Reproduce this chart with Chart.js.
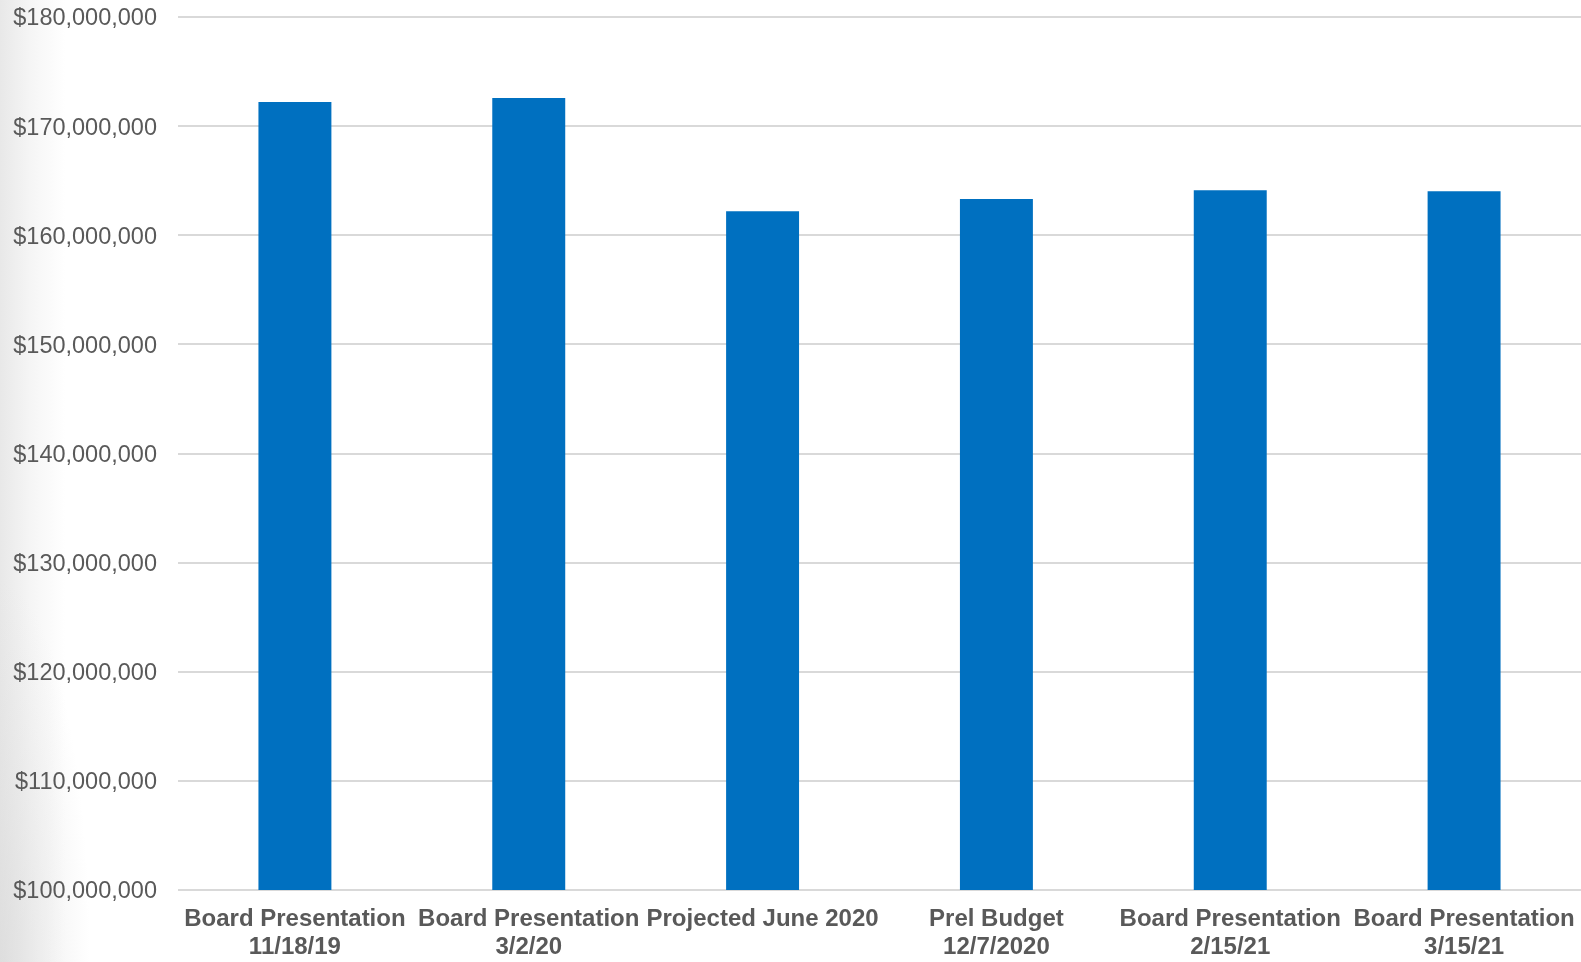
<!DOCTYPE html>
<html>
<head>
<meta charset="utf-8">
<script src="https://cdn.jsdelivr.net/npm/chart.js@4/dist/chart.umd.min.js"></script>
<style>
  html, body { margin: 0; padding: 0; }
  body {
    width: 1581px; height: 962px; overflow: hidden;
    background:
      radial-gradient(ellipse 90px 380px at 0% 100%, rgba(215,215,215,0.6) 0%, rgba(255,255,255,0) 100%),
      linear-gradient(to right, #e8e8e8 0px, #f5f5f5 30px, #ffffff 65px);
  }
  #wrap { position: absolute; left: 0; top: 0; width: 1581px; height: 962px; }
</style>
</head>
<body>
<div id="wrap"><canvas id="c" width="1581" height="962"></canvas></div>
<script>
const categories = [
  ["Board Presentation", "11/18/19"],
  ["Board Presentation", "3/2/20"],
  ["Projected June 2020"],
  ["Prel Budget", "12/7/2020"],
  ["Board Presentation", "2/15/21"],
  ["Board Presentation", "3/15/21"]
];
const values = [172200000, 172580000, 162200000, 163330000, 164130000, 164040000];
const yMin = 100000000;
const yMax = 180000000;
const yStep = 10000000;

const textColor = '#595959';

new Chart(document.getElementById('c'), {
  type: 'bar',
  data: {
    labels: categories,
    datasets: [{
      data: values,
      backgroundColor: '#0070C0',
      borderWidth: 0,
      categoryPercentage: 1.0,
      barPercentage: 0.312
    }]
  },
  options: {
    responsive: false,
    animation: false,
    devicePixelRatio: 1,
    layout: { padding: { top: 17, left: 0, right: 0, bottom: 0 } },
    plugins: { legend: { display: false }, tooltip: { enabled: false } },
    scales: {
      x: {
        grid: { display: false, drawTicks: false },
        border: { display: false },
        ticks: {
          color: textColor,
          padding: 16,
          maxRotation: 0,
          autoSkip: false,
          font: { family: '"Liberation Sans", Arial, sans-serif', size: 24, weight: 'bold', lineHeight: 1.15 }
        },
        afterFit: (s) => { s.height = 72; s.paddingLeft = 0; s.paddingRight = 0; }
      },
      y: {
        min: yMin,
        max: yMax,
        grid: { color: '#d9d9d9', lineWidth: 2, drawTicks: false },
        border: { display: false },
        ticks: {
          stepSize: yStep,
          color: textColor,
          padding: 21,
          labelOffset: 2,
          font: { family: '"Liberation Sans", Arial, sans-serif', size: 23.5 },
          callback: (v) => '$' + Number(v).toLocaleString('en-US')
        },
        afterFit: (s) => { s.width = 178; s.paddingTop = 0; s.paddingBottom = 0; }
      }
    }
  }
});
</script>
</body>
</html>
